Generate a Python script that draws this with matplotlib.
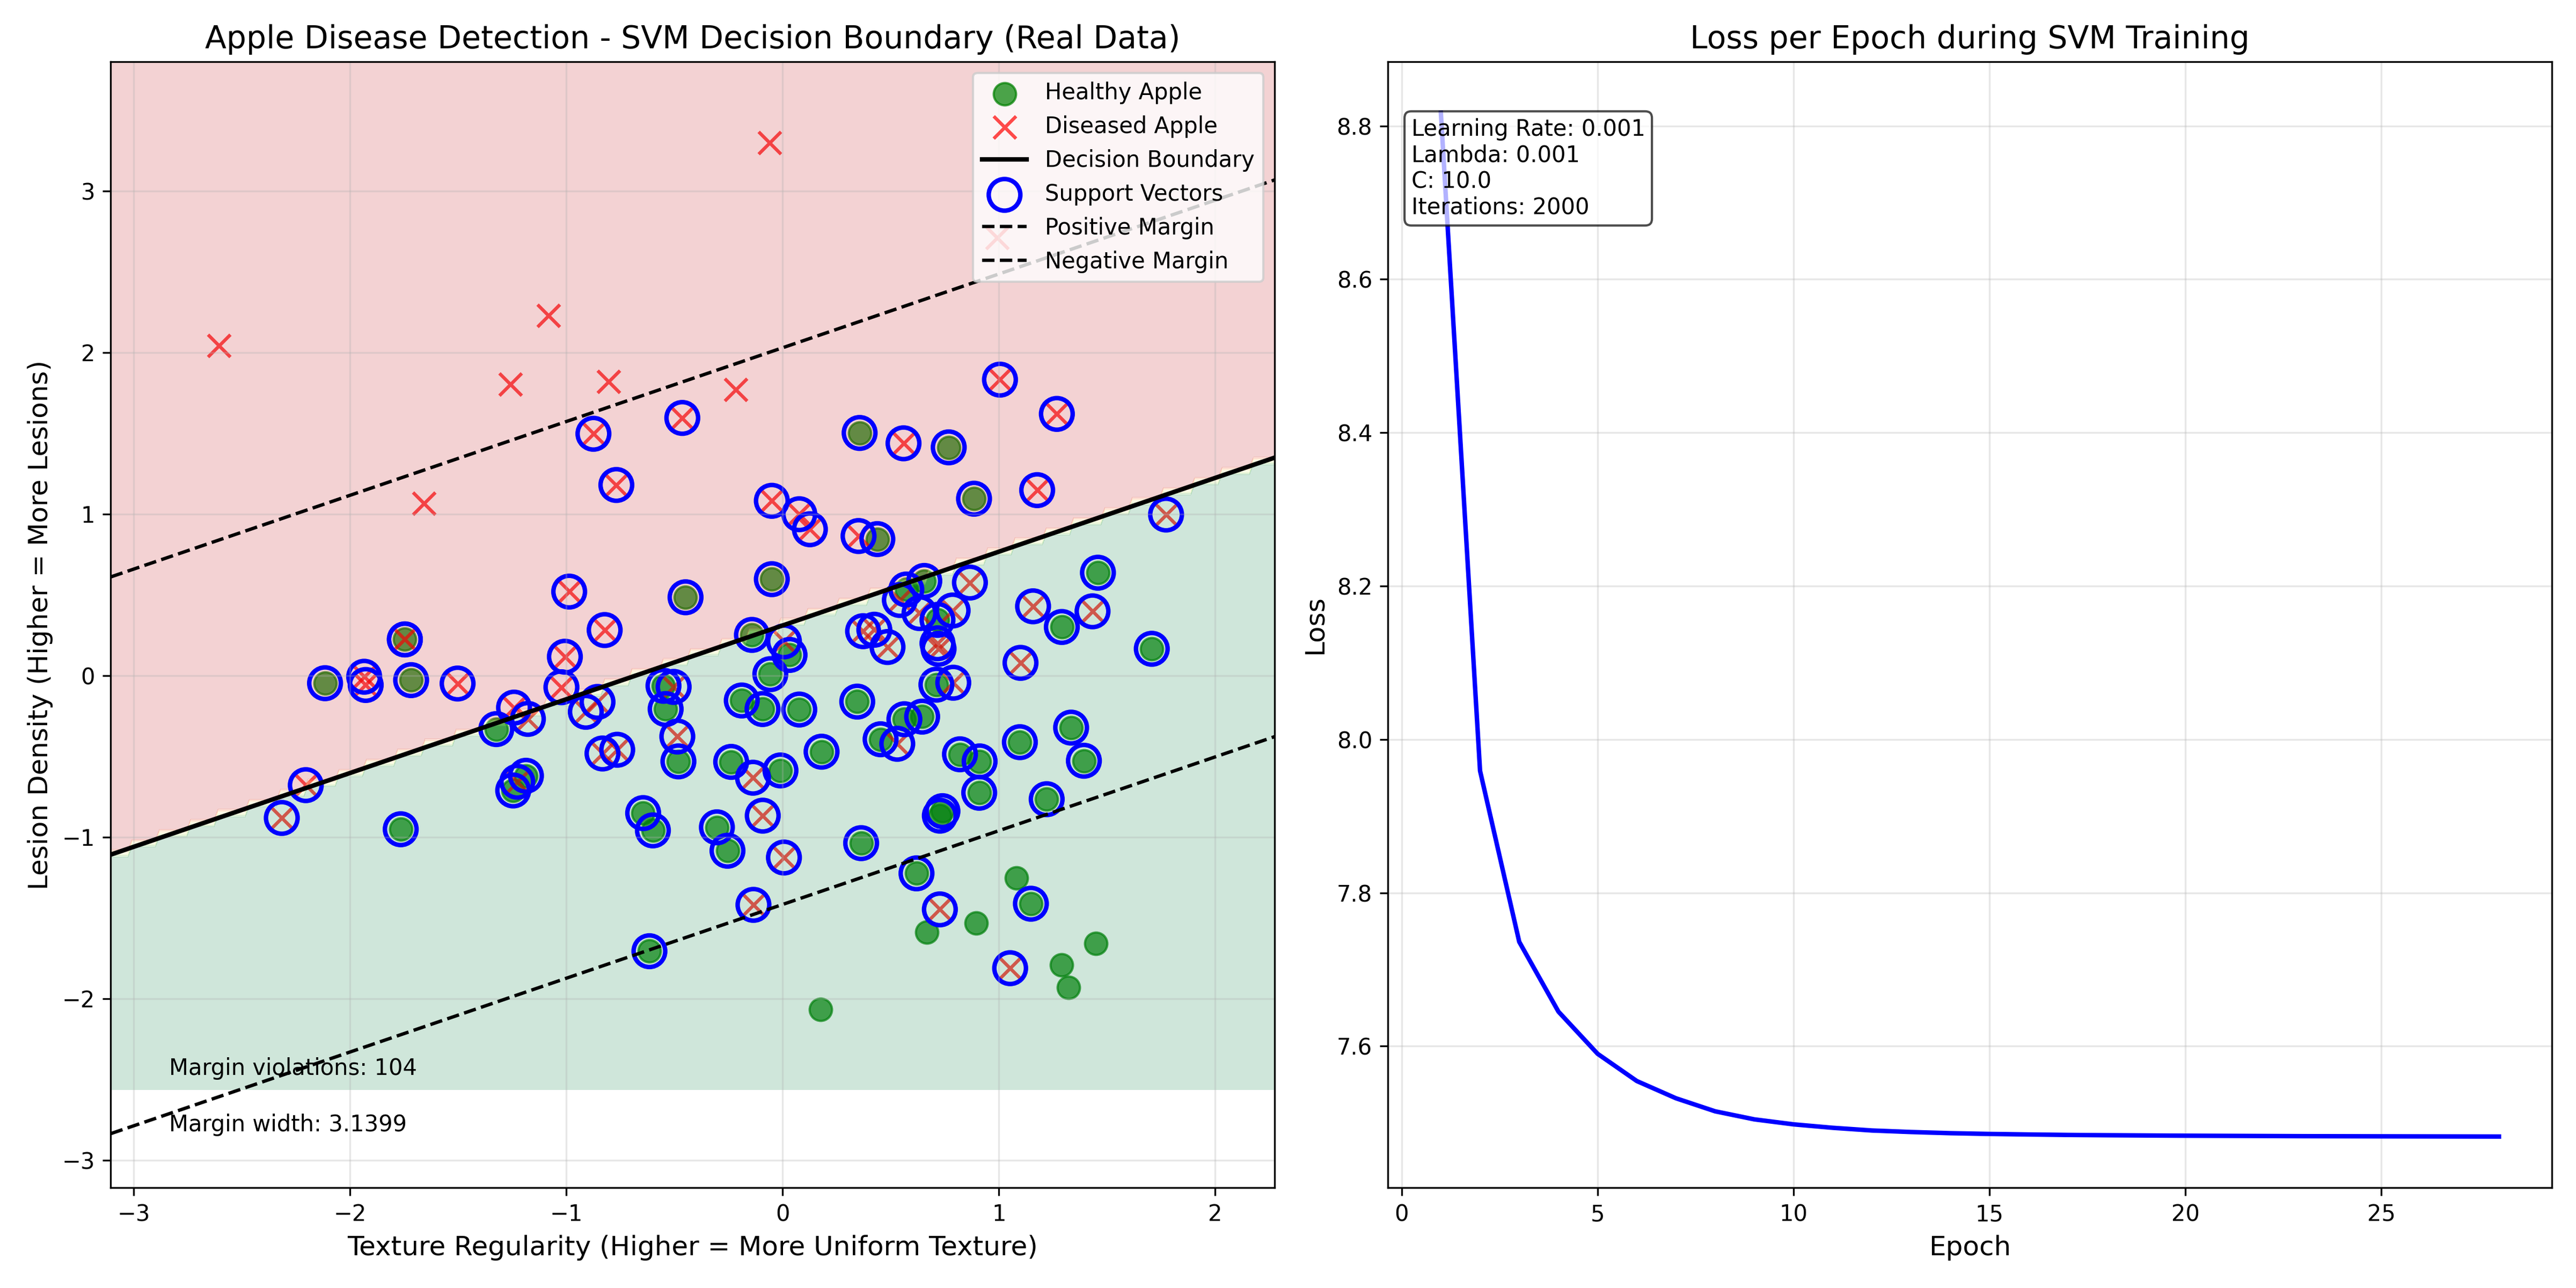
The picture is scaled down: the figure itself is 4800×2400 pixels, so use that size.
import numpy as np
import matplotlib
matplotlib.use('Agg')
import matplotlib.pyplot as plt

# Healthy apples which are support vectors
healthy_sv_x = [0.356, 0.768, 0.885, 0.438, -0.050, 1.458, 0.655, 0.572, -1.747, -2.116, -1.718, -1.324,
                -1.766, -0.616, -1.246, -1.187, -0.645, -0.600, -0.482, -0.541, -0.551, -0.449,
                -0.142, 0.032, -0.057, -0.189, -0.093, 0.077, 0.345, 0.180, 0.453, 0.563, 0.645,
                0.711, 0.716, 1.291, 1.707, 0.820, 0.911, 1.097, 1.334, 1.393, 0.909, 1.221,
                -0.238, -0.010, -0.304, -0.255, 0.363, 0.619, 1.148, 0.739, 0.727]
healthy_sv_y = [1.502, 1.413, 1.095, 0.845, 0.597, 0.637, 0.586, 0.533, 0.224, -0.047, -0.028, -0.331,
                -0.951, -1.706, -0.711, -0.620, -0.851, -0.958, -0.531, -0.207, -0.063, 0.485,
                0.252, 0.128, 0.009, -0.154, -0.207, -0.210, -0.161, -0.471, -0.394, -0.270, -0.254,
                -0.056, 0.345, 0.301, 0.166, -0.487, -0.531, -0.412, -0.322, -0.527, -0.725, -0.765,
                -0.534, -0.587, -0.939, -1.084, -1.037, -1.224, -1.412, -0.839, -0.867]
# Healthy apples outside the support vectors
healthy_x = [1.080, 0.666, 0.894, 1.449, 1.289, 1.322, 0.175]
healthy_y = [-1.254, -1.589, -1.531, -1.657, -1.790, -1.930, -2.065]

# Diseased apples which are support vectors
diseased_sv_x = [-0.875, -0.769, -0.464, 1.005, 1.268, 0.559, 1.177, -0.050, 0.077, 0.126, 0.351, 1.773,
                 0.866, -1.747, -1.227, -2.205, -2.316, -1.935, -1.928, -1.503, -0.987, -0.823,
                 -1.007, -1.023, -1.242, -1.178, -0.856, -0.910, -0.833, -0.765, -0.487, -0.504,
                 0.006, 0.372, 0.424, 0.485, 0.542, 0.633, 0.786, 0.716, 0.721, 1.158, 1.433, 1.100,
                 0.789, -0.137, -0.092, 0.006, -0.135, 0.727, 1.052, 0.530]
diseased_sv_y = [1.497, 1.180, 1.595, 1.832, 1.620, 1.438, 1.148, 1.082, 0.999, 0.906, 0.864, 0.997,
                 0.576, 0.224, -0.657, -0.678, -0.881, -0.007, -0.058, -0.049, 0.520, 0.282,
                 0.117, -0.072, -0.198, -0.268, -0.163, -0.224, -0.482, -0.459, -0.377, -0.070,
                 0.212, 0.275, 0.284, 0.177, 0.468, 0.387, 0.403, 0.200, 0.166, 0.429, 0.398, 0.079,
                 -0.044, -0.632, -0.867, -1.126, -1.419, -1.447, -1.811, -0.422]
# Diseased apples outside the support vectors
diseased_x = [-2.607, -1.084, -1.260, -0.805, -1.658, -0.060, -0.217, 0.991]
diseased_y = [2.042, 2.230, 1.802, 1.821, 1.067, 3.298, 1.771, 2.709]

# Fitted SVM line and margins
slope = 0.4566
intercept = 0.3105
margin_up = 1.719
margin_down = -1.727

# Loss per epoch
epochs = list(range(1, 29))
loss = [8.817, 7.959, 7.736, 7.645, 7.590, 7.5545, 7.532, 7.515, 7.5045, 7.498, 7.4935, 7.490, 7.488, 7.4865,
        7.4855, 7.4848, 7.4842, 7.4838, 7.4835, 7.4832, 7.483, 7.4828, 7.4826, 7.4825, 7.4824, 7.4823, 7.4822, 7.4821]

xlim = (-3.107, 2.275)
ylim = (-3.17, 3.80)

fig, (ax1, ax2) = plt.subplots(1, 2, figsize=(16, 8))

all_healthy_x = healthy_sv_x + healthy_x
all_healthy_y = healthy_sv_y + healthy_y
all_diseased_x = diseased_sv_x + diseased_x
all_diseased_y = diseased_sv_y + diseased_y
ax1.scatter(all_healthy_x, all_healthy_y, c='green', marker='o', s=100, alpha=0.7, label='Healthy Apple')
ax1.scatter(all_diseased_x, all_diseased_y, c='red', marker='x', s=100, alpha=0.7, label='Diseased Apple')

# Decision regions go over the points, like the original
xx, yy = np.meshgrid(np.linspace(xlim[0] - 0.01, xlim[1] + 0.01, 300), np.linspace(-2.563, 3.85, 104))
zz = np.where(yy > slope * xx + intercept, -1.0, 1.0)
ax1.contourf(xx, yy, zz, alpha=0.2, cmap='RdYlGn')

line_x = np.array(xlim)
ax1.plot(line_x, slope * line_x + intercept, 'k-', linewidth=2, label='Decision Boundary')
ax1.scatter(healthy_sv_x + diseased_sv_x, healthy_sv_y + diseased_sv_y, s=200, facecolors='none',
            edgecolors='blue', linewidths=2, label='Support Vectors')
ax1.plot(line_x, slope * line_x + intercept + margin_up, 'k--', linewidth=1.5, label='Positive Margin')
ax1.plot(line_x, slope * line_x + intercept + margin_down, 'k--', linewidth=1.5, label='Negative Margin')

ax1.text(0.05, 0.1, 'Margin violations: 104', transform=ax1.transAxes, fontsize=10)
ax1.text(0.05, 0.05, 'Margin width: 3.1399', transform=ax1.transAxes, fontsize=10)

ax1.set_xlim(xlim)
ax1.set_ylim(ylim)
ax1.set_xlabel('Texture Regularity (Higher = More Uniform Texture)', fontsize=12)
ax1.set_ylabel('Lesion Density (Higher = More Lesions)', fontsize=12)
ax1.set_title('Apple Disease Detection - SVM Decision Boundary (Real Data)', fontsize=14)
ax1.grid(True, alpha=0.3)
ax1.legend(loc='upper right')

# Loss curve
ax2.plot(epochs, loss, 'b-', linewidth=2)
ax2.set_xlabel('Epoch', fontsize=12)
ax2.set_ylabel('Loss', fontsize=12)
ax2.set_title('Loss per Epoch during SVM Training', fontsize=14)
ax2.grid(True, alpha=0.3)
ax2.text(0.02, 0.95, 'Learning Rate: 0.001\nLambda: 0.001\nC: 10.0\nIterations: 2000', transform=ax2.transAxes,
         fontsize=10, verticalalignment='top', bbox=dict(boxstyle='round', facecolor='white', alpha=0.7))

plt.tight_layout()
plt.savefig('out.png', dpi=300)
